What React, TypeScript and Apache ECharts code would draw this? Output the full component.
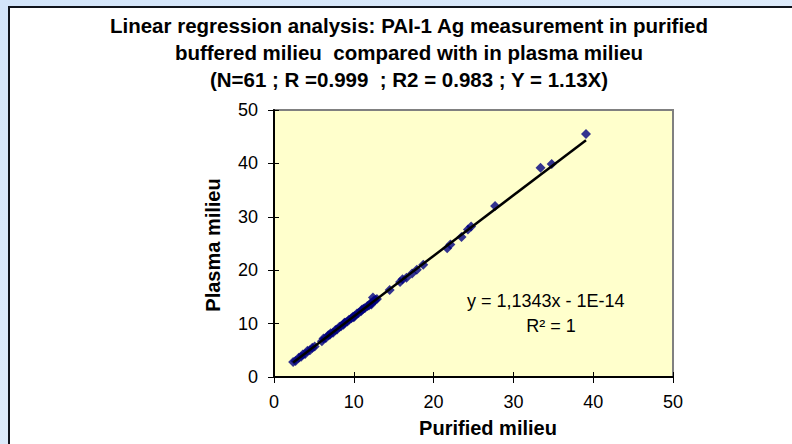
import React, { useEffect, useRef } from "react";
import * as echarts from "echarts";

const purified = [2.4, 2.7, 3.1, 3.4, 3.6, 3.9, 4.2, 4.5, 4.8, 5.1, 6.0, 6.2, 6.5, 6.8, 7.0, 7.1, 7.4, 7.7, 7.9, 8.2, 8.4, 8.7, 8.9, 9.2, 9.4, 9.7, 9.9, 10.1, 10.4, 10.6, 10.9, 11.2, 11.4, 11.7, 11.9, 12.1, 12.3, 12.5, 12.7, 12.9, 11.0, 12.2, 10.0, 8.8, 12.4, 14.5, 15.8, 16.1, 16.6, 17.3, 17.9, 18.7, 21.7, 22.1, 23.5, 24.3, 24.7, 27.7, 33.4, 34.8, 39.1];
const plasma = [2.8, 3.0, 3.6, 3.8, 4.2, 4.3, 4.9, 5.0, 5.5, 5.7, 6.7, 7.2, 7.3, 7.8, 7.9, 8.2, 8.3, 8.8, 8.9, 9.4, 9.5, 9.8, 10.2, 10.4, 10.7, 11.0, 11.3, 11.4, 11.9, 12.0, 12.3, 12.8, 12.9, 13.3, 13.4, 13.8, 13.9, 14.3, 14.4, 14.6, 12.6, 13.6, 11.2, 10.1, 14.9, 16.3, 17.8, 18.3, 18.6, 19.4, 20.1, 21.0, 24.1, 24.8, 26.2, 27.6, 28.2, 32.0, 39.2, 39.9, 45.5];
const axisTicks = [0, 10, 20, 30, 40, 50];
const trendSlope = 1.1343;
const trendRange = [2.4, 39.1];
const titleLines = [
  "Linear regression analysis: PAI-1 Ag measurement in purified",
  "buffered milieu  compared with in plasma milieu",
  "(N=61 ; R =0.999  ; R2 = 0.983 ; Y = 1.13X)",
];
const xAxisName = "Purified milieu";
const yAxisName = "Plasma milieu";
const equationText = "y = 1,1343x - 1E-14";
const r2Text = "R² = 1";

const FONT = 'Arial, "Liberation Sans", sans-serif';

export default function App() {
  const ref = useRef<HTMLDivElement>(null);
  useEffect(() => {
    if (!ref.current) return;
    const chart = echarts.init(ref.current, undefined, { renderer: "svg" });
    const points = purified.map((x, i) => [x, plasma[i]]);
    const trend = trendRange.map((x) => [x, x * trendSlope]);
    const axisMin = axisTicks[0];
    const axisMax = axisTicks[axisTicks.length - 1];
    const interval = axisTicks[1] - axisTicks[0];
    const gridLeft = 274, gridTop = 110, gridW = 399, gridH = 267;

    const baseX = {
      type: "value",
      min: axisMin,
      max: axisMax,
      interval,
      splitLine: { show: false },
    };
    const titleGraphics = titleLines.map((t, i) => ({
      type: "text",
      x: 409,
      y: 25.5 + i * 27,
      style: { text: t, font: `bold 20.5px ${FONT}`, fill: "#000", align: "center", verticalAlign: "middle" },
      z: 10,
    }));
    chart.setOption({
      animation: false,
      backgroundColor: new echarts.graphic.LinearGradient(0, 0, 1, 1, [
        { offset: 0, color: "#d3e5fa" },
        { offset: 1, color: "#e6f0fb" },
      ]),
      textStyle: { fontFamily: FONT },
      graphic: [
        {
          type: "rect",
          shape: { x: 9, y: 7, width: 800, height: 460 },
          style: { fill: "#ffffff", stroke: "#10141c", lineWidth: 2 },
          z: -10,
        },
        ...titleGraphics,
        {
          type: "text",
          x: 488,
          y: 428,
          style: { text: xAxisName, font: `bold 20px ${FONT}`, fill: "#000", align: "center", verticalAlign: "middle" },
          z: 10,
        },
        {
          type: "text",
          x: 213,
          y: 245,
          rotation: Math.PI / 2,
          style: { text: yAxisName, font: `bold 20px ${FONT}`, fill: "#000", align: "center", verticalAlign: "middle" },
          z: 10,
        },
        {
          type: "text",
          x: 467,
          y: 301,
          style: { text: equationText, font: `18px ${FONT}`, fill: "#000", align: "left", verticalAlign: "middle" },
          z: 10,
        },
        {
          type: "text",
          x: 551,
          y: 326,
          style: { text: r2Text, font: `18px ${FONT}`, fill: "#000", align: "center", verticalAlign: "middle" },
          z: 10,
        },
      ],
      grid: {
        left: gridLeft,
        top: gridTop,
        width: gridW,
        height: gridH,
        show: true,
        backgroundColor: "#ffffcc",
        borderColor: "#808080",
        borderWidth: 2,
      },
      xAxis: [
        {
          ...baseX,
          axisLine: { show: true, onZero: false, lineStyle: { color: "#000", width: 2 } },
          axisTick: { show: true, length: 6, lineStyle: { color: "#000", width: 1 } },
          axisLabel: { fontFamily: FONT, fontSize: 18, color: "#000", margin: 16 },
        },
        {
          ...baseX,
          position: "bottom",
          axisLine: { show: false },
          axisTick: { show: true, inside: true, length: 5, lineStyle: { color: "#000", width: 1 } },
          axisLabel: { show: false },
        },
      ],
      yAxis: [
        {
          ...baseX,
          axisLine: { show: true, onZero: false, lineStyle: { color: "#000", width: 2 } },
          axisTick: { show: true, length: 6, lineStyle: { color: "#000", width: 1 } },
          axisLabel: { fontFamily: FONT, fontSize: 18, color: "#000", margin: 16 },
        },
        {
          ...baseX,
          position: "left",
          axisLine: { show: false },
          axisTick: { show: true, inside: true, length: 5, lineStyle: { color: "#000", width: 1 } },
          axisLabel: { show: false },
        },
      ],
      series: [
        {
          type: "scatter",
          data: points,
          symbol: "diamond",
          symbolSize: [10, 10],
          itemStyle: { color: "#000080" },
          z: 3,
        },
        {
          type: "line",
          data: trend,
          showSymbol: false,
          symbol: "none",
          lineStyle: { color: "#000", width: 2.5 },
          z: 4,
        },
      ],
    });
    return () => chart.dispose();
  }, []);
  return (
    <div
      ref={ref}
      style={{ position: "absolute", left: 0, top: 0, width: 792, height: 444 }}
    />
  );
}
